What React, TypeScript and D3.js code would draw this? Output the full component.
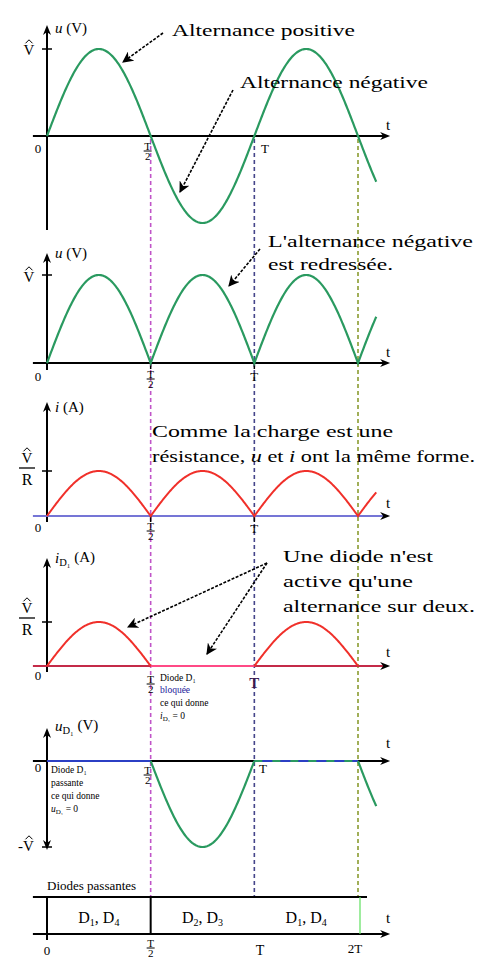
import React from "react";
import * as d3 from "d3";

// ---- chart data ---------------------------------------------------------
// time is expressed in units of the period T
const tickTimes = [0, 0.5, 1, 1.5];
const waveEnd = 1.59; // last instant drawn for the waveforms
const axisStart = -0.068;
const axisEnd = 1.655;

// conducting diodes over each half period
const bridgeIntervals = [0, 0.5, 1, 1.5];
const conductingPairs = [
  ["1", "4"],
  ["2", "3"],
  ["1", "4"],
];

// normalised waveforms (amplitude 1 = V̂ or V̂/R)
const waveU = (t: number) => Math.sin(2 * Math.PI * t);
const waveRectified = (t: number) => Math.abs(Math.sin(2 * Math.PI * t));
const waveID1 = (t: number) => Math.max(0, Math.sin(2 * Math.PI * t));
const waveUD1 = (t: number) => Math.min(0, Math.sin(2 * Math.PI * t));

const samples = d3.range(0, waveEnd + 1e-9, 0.004);

// ---- layout --------------------------------------------------------------
const W = 485;
const H = 965;
const X0 = 47;
const x = d3.scaleLinear().domain([0, 1.5]).range([X0, 358]);

const SERIF = "'Liberation Serif', 'Times New Roman', serif";
const GREEN = "#2a9a60";
const RED = "#f0302a";
const DASH_COLORS = ["#c055c8", "#45458a", "#8a9c30"];

type PanelLayout = { axisY: number; amp: number; top: number; bottom: number };
const P1: PanelLayout = { axisY: 136, amp: 87, top: 25, bottom: 230 };
const P2: PanelLayout = { axisY: 363, amp: 88, top: 253, bottom: 370 };
const P3: PanelLayout = { axisY: 516, amp: 45, top: 402, bottom: 522 };
const P4: PanelLayout = { axisY: 666, amp: 44, top: 558, bottom: 672 };
const P5: PanelLayout = { axisY: 761, amp: 86, top: 728, bottom: 850 };
const TABLE = { top: 897, bottom: 934 };

const yOf = (p: PanelLayout) =>
  d3.scaleLinear().domain([-1, 1]).range([p.axisY + p.amp, p.axisY - p.amp]);

function wavePath(p: PanelLayout, f: (t: number) => number, ts = samples) {
  const y = yOf(p);
  return (
    d3
      .line<number>()
      .x((t) => x(t))
      .y((t) => y(f(t)))(ts) || ""
  );
}

// ---- small drawing helpers -----------------------------------------------
function ArrowRight({ xe, y, color = "#000" }: { xe: number; y: number; color?: string }) {
  return <path d={`M${xe},${y} L${xe - 10},${y - 4} L${xe - 7},${y} L${xe - 10},${y + 4} Z`} fill={color} />;
}
function ArrowUp({ x: xa, y }: { x: number; y: number }) {
  return <path d={`M${xa},${y} L${xa - 4},${y + 10} L${xa},${y + 7} L${xa + 4},${y + 10} Z`} fill="#000" />;
}
function ArrowDown({ x: xa, y }: { x: number; y: number }) {
  return <path d={`M${xa},${y} L${xa - 4},${y - 10} L${xa},${y - 7} L${xa + 4},${y - 10} Z`} fill="#000" />;
}

function TimeAxis({ p, color = "#000" }: { p: PanelLayout; color?: string }) {
  return (
    <g>
      <line x1={x(axisStart)} x2={x(axisEnd) - 6} y1={p.axisY} y2={p.axisY} stroke={color} strokeWidth={2} />
      <ArrowRight xe={x(axisEnd)} y={p.axisY} />
    </g>
  );
}
function ValueAxis({ p, down = false }: { p: PanelLayout; down?: boolean }) {
  return (
    <g>
      <line x1={X0} x2={X0} y1={p.top + 5} y2={down ? p.bottom - 5 : p.bottom} stroke="#000" strokeWidth={2} />
      <ArrowUp x={X0} y={p.top} />
      {down && <ArrowDown x={X0} y={p.bottom} />}
    </g>
  );
}
function PeakTick({ y }: { y: number }) {
  return <line x1={X0 - 5} x2={X0 + 5} y1={y} y2={y} stroke="#000" strokeWidth={1.5} />;
}
function TimeTicks({ p }: { p: PanelLayout }) {
  return (
    <g>
      {tickTimes.slice(1, 3).map((t) => (
        <line key={t} x1={x(t)} x2={x(t)} y1={p.axisY} y2={p.axisY + 6} stroke="#000" strokeWidth={1.5} />
      ))}
    </g>
  );
}

// "V" with a circumflex drawn as a small stroke above it
function Hat({ cx, baseline, size = 14, minus = false }: { cx: number; baseline: number; size?: number; minus?: boolean }) {
  const vx = minus ? cx + 3 : cx;
  const hy = baseline - size * 0.78;
  return (
    <g>
      <text x={cx} y={baseline} fontFamily={SERIF} fontSize={size} textAnchor="middle" fill="#000">
        {minus ? "-V" : "V"}
      </text>
      <path
        d={`M${vx - 3.5},${hy} L${vx},${hy - 3.5} L${vx + 3.5},${hy}`}
        fill="none"
        stroke="#000"
        strokeWidth={1}
      />
    </g>
  );
}

function FracVR({ cx, bar }: { cx: number; bar: number }) {
  return (
    <g fontFamily={SERIF} fill="#000" textAnchor="middle">
      <Hat cx={cx} baseline={bar - 5} size={15} />
      <line x1={cx - 8} x2={cx + 8} y1={bar} y2={bar} stroke="#000" strokeWidth={1.3} />
      <text x={cx} y={bar + 17} fontSize={16}>
        R
      </text>
    </g>
  );
}

function FracT2({ cx, bar, size = 11 }: { cx: number; bar: number; size?: number }) {
  return (
    <g fontFamily={SERIF} fill="#000" textAnchor="middle" fontSize={size}>
      <text x={cx} y={bar - 1.5}>
        T
      </text>
      <line x1={cx - 4} x2={cx + 4} y1={bar} y2={bar} stroke="#000" strokeWidth={1} />
      <text x={cx} y={bar + size * 0.85}>
        2
      </text>
    </g>
  );
}

function Label({ x: lx, y, children, size = 13, anchor = "middle", weight = "normal", fill = "#000" }: any) {
  return (
    <text x={lx} y={y} fontFamily={SERIF} fontSize={size} textAnchor={anchor} fontWeight={weight} fill={fill}>
      {children}
    </text>
  );
}

function Sub({ main, sub, italic = true }: { main: string; sub: string; italic?: boolean }) {
  return (
    <>
      <tspan fontStyle={italic ? "italic" : "normal"}>{main}</tspan>
      <tspan fontSize="0.7em" dy="0.3em">
        {sub}
      </tspan>
      <tspan dy="-0.3em"> </tspan>
    </>
  );
}

function Pointer({ x1, y1, x2, y2 }: { x1: number; y1: number; x2: number; y2: number }) {
  return (
    <line
      x1={x1}
      y1={y1}
      x2={x2}
      y2={y2}
      stroke="#000"
      strokeWidth={1.6}
      strokeDasharray="3,1.5"
      markerEnd="url(#pointerHead)"
    />
  );
}

export default function App() {
  const y1 = yOf(P1);
  const y2 = yOf(P2);
  const y3 = yOf(P3);
  const y4 = yOf(P4);
  const y5 = yOf(P5);

  const ann = { fontFamily: SERIF, fontSize: 17, fill: "#000" } as const;

  return (
    <div style={{ position: "absolute", left: 0, top: 0 }}>
      <svg width={W} height={H} viewBox={`0 0 ${W} ${H}`} style={{ display: "block", background: "#fff" }}>
        <defs>
          <marker id="pointerHead" viewBox="0 0 10 10" refX="9" refY="5" markerWidth="7" markerHeight="7" orient="auto-start-reverse">
            <path d="M0,0 L10,5 L0,10 L3,5 Z" fill="#000" />
          </marker>
        </defs>

        {/* dashed guides at T/2, T and 3T/2 */}
        {tickTimes.slice(1).map((t, i) => (
          <line
            key={t}
            x1={x(t)}
            x2={x(t)}
            y1={P1.axisY + 3}
            y2={TABLE.top}
            stroke={DASH_COLORS[i]}
            strokeWidth={1.6}
            strokeDasharray="4,3"
          />
        ))}

        {/* ---------- panel 1 : u(t) ---------- */}
        <ValueAxis p={P1} />
        <TimeAxis p={P1} />
        <PeakTick y={y1(1)} />
        <path d={wavePath(P1, waveU)} fill="none" stroke={GREEN} strokeWidth={2.2} />
        <Hat cx={29} baseline={y1(1) + 6} size={15} />
        <Label x={55} y={33} size={15} anchor="start">
          <tspan fontStyle="italic">u</tspan> (V)
        </Label>
        <Label x={38} y={153}>0</Label>
        <FracT2 cx={x(0.5) - 3} bar={151} />
        <Label x={265} y={153}>T</Label>
        <Label x={388} y={130} size={15}>t</Label>
        <text x={172} y={36} {...ann} textLength={183} lengthAdjust="spacingAndGlyphs">
          Alternance positive
        </text>
        <Pointer x1={163} y1={33} x2={123} y2={62} />
        <text x={240} y={88} {...ann} textLength={188} lengthAdjust="spacingAndGlyphs">
          Alternance négative
        </text>
        <Pointer x1={233} y1={90} x2={180} y2={192} />

        {/* ---------- panel 2 : rectified u(t) ---------- */}
        <ValueAxis p={P2} />
        <TimeAxis p={P2} />
        <TimeTicks p={P2} />
        <PeakTick y={y2(1)} />
        <path d={wavePath(P2, waveRectified)} fill="none" stroke={GREEN} strokeWidth={2.2} />
        <Hat cx={29} baseline={y2(1) + 7} size={15} />
        <Label x={55} y={258} size={15} anchor="start">
          <tspan fontStyle="italic">u</tspan> (V)
        </Label>
        <Label x={38} y={381}>0</Label>
        <FracT2 cx={x(0.5)} bar={379} />
        <Label x={x(1)} y={381}>T</Label>
        <Label x={388} y={357} size={15}>t</Label>
        <text x={268} y={247} {...ann} textLength={205} lengthAdjust="spacingAndGlyphs">
          L'alternance négative
        </text>
        <text x={268} y={270} {...ann} textLength={125} lengthAdjust="spacingAndGlyphs">
          est redressée.
        </text>
        <Pointer x1={260} y1={249} x2={229} y2={286} />

        {/* ---------- panel 3 : i(t) ---------- */}
        <ValueAxis p={P3} />
        <TimeAxis p={P3} color="#7575d6" />
        <TimeTicks p={P3} />
        <PeakTick y={y3(1)} />
        <path d={wavePath(P3, waveRectified)} fill="none" stroke={RED} strokeWidth={2} />
        <FracVR cx={27} bar={468} />
        <Label x={55} y={412} size={15} anchor="start">
          <tspan fontStyle="italic">i</tspan> (A)
        </Label>
        <Label x={38} y={532}>0</Label>
        <FracT2 cx={x(0.5)} bar={531} />
        <Label x={x(1)} y={533}>T</Label>
        <Label x={388} y={508} size={15}>t</Label>
        <text x={152} y={437} {...ann} fontSize={16} textLength={241} lengthAdjust="spacingAndGlyphs">
          Comme la charge est une
        </text>
        <text x={152} y={462} {...ann} fontSize={16} textLength={323} lengthAdjust="spacingAndGlyphs">
          résistance, <tspan fontStyle="italic">u</tspan> et <tspan fontStyle="italic">i</tspan> ont la même forme.
        </text>

        {/* ---------- panel 4 : i_D1(t) ---------- */}
        <ValueAxis p={P4} />
        <TimeAxis p={P4} color="#c42a48" />
        <line x1={x(0.5)} x2={x(1)} y1={P4.axisY} y2={P4.axisY} stroke="#ff4a86" strokeWidth={2} />
        <PeakTick y={y4(1)} />
        <path d={wavePath(P4, waveID1, samples.filter((t) => t <= 0.5))} fill="none" stroke={RED} strokeWidth={2} />
        <path
          d={wavePath(P4, waveID1, samples.filter((t) => t >= 1 && t <= 1.5))}
          fill="none"
          stroke={RED}
          strokeWidth={2}
        />
        <FracVR cx={27} bar={618} />
        <Label x={55} y={563} size={15} anchor="start">
          <Sub main="i" sub="D₁" /> (A)
        </Label>
        <Label x={38} y={680}>0</Label>
        <FracT2 cx={x(0.5)} bar={684} />
        <Label x={x(1)} y={688} size={15} weight="bold" fill="#3a1850">
          T
        </Label>
        <Label x={388} y={657} size={15}>t</Label>
        <text x={283} y={562} {...ann} textLength={150} lengthAdjust="spacingAndGlyphs">
          Une diode n'est
        </text>
        <text x={283} y={587} {...ann} textLength={130} lengthAdjust="spacingAndGlyphs">
          active qu'une
        </text>
        <text x={283} y={612} {...ann} textLength={192} lengthAdjust="spacingAndGlyphs">
          alternance sur deux.
        </text>
        <Pointer x1={267} y1={563} x2={128} y2={627} />
        <Pointer x1={267} y1={563} x2={207} y2={654} />
        <g fontFamily={SERIF} fontSize={9.5} fill="#000">
          <text x={160} y={681}>Diode D₁</text>
          <text x={160} y={693} fill="#1a1a9a">bloquée</text>
          <text x={160} y={706}>ce qui donne</text>
          <text x={160} y={719}>
            <tspan fontStyle="italic">i</tspan>
            <tspan fontSize={7} dy={2}>D₁</tspan>
            <tspan dy={-2}> = 0</tspan>
          </text>
        </g>

        {/* ---------- panel 5 : u_D1(t) ---------- */}
        <ValueAxis p={P5} down />
        <TimeAxis p={P5} />
        <line x1={x(0)} x2={x(0.5)} y1={P5.axisY} y2={P5.axisY} stroke="#2b3fc4" strokeWidth={2} />
        <line x1={x(1)} x2={x(1.5)} y1={P5.axisY} y2={P5.axisY} stroke="#2b3fc4" strokeWidth={2} />
        <line
          x1={x(1)}
          x2={x(1.5)}
          y1={P5.axisY}
          y2={P5.axisY}
          stroke={GREEN}
          strokeWidth={2}
          strokeDasharray="8,10"
        />
        <PeakTick y={y5(-1)} />
        <path
          d={wavePath(P5, waveUD1, samples.filter((t) => t >= 0.5 && t <= 1))}
          fill="none"
          stroke={GREEN}
          strokeWidth={2.2}
        />
        <path d={wavePath(P5, waveUD1, samples.filter((t) => t >= 1.5))} fill="none" stroke={GREEN} strokeWidth={2.2} />
        <Hat cx={26} baseline={851} size={15} minus />
        <Label x={55} y={731} size={15} anchor="start">
          <Sub main="u" sub="D₁" /> (V)
        </Label>
        <Label x={38} y={772}>0</Label>
        <FracT2 cx={x(0.5) - 3} bar={775} />
        <Label x={263} y={773}>T</Label>
        <Label x={388} y={748} size={15}>t</Label>
        <g fontFamily={SERIF} fontSize={9.5} fill="#000">
          <text x={51} y={773}>Diode D₁</text>
          <text x={51} y={786}>passante</text>
          <text x={51} y={799}>ce qui donne</text>
          <text x={51} y={812}>
            <tspan fontStyle="italic">u</tspan>
            <tspan fontSize={7} dy={2}>D₁</tspan>
            <tspan dy={-2}> = 0</tspan>
          </text>
        </g>

        {/* ---------- conducting diodes table ---------- */}
        <Label x={47} y={890} size={13} anchor="start">
          Diodes passantes
        </Label>
        <line x1={x(axisStart)} x2={367} y1={TABLE.top} y2={TABLE.top} stroke="#000" strokeWidth={2} />
        <line x1={x(axisStart)} x2={x(axisEnd) - 6} y1={TABLE.bottom} y2={TABLE.bottom} stroke="#000" strokeWidth={2} />
        <ArrowRight xe={x(axisEnd)} y={TABLE.bottom} />
        <line x1={x(0)} x2={x(0)} y1={TABLE.top} y2={TABLE.bottom + 6} stroke="#000" strokeWidth={2} />
        <line x1={x(0.5)} x2={x(0.5)} y1={TABLE.top} y2={TABLE.bottom} stroke="#000" strokeWidth={2} />
        <line x1={x(1.5) + 2} x2={x(1.5) + 2} y1={TABLE.top} y2={TABLE.bottom} stroke="#5ee05e" strokeWidth={1.2} />
        {conductingPairs.map((pair, i) => {
          const cx = (x(bridgeIntervals[i]) + x(bridgeIntervals[i + 1])) / 2;
          return (
            <text key={i} x={cx} y={923} fontFamily={SERIF} fontSize={16} textAnchor="middle" fill="#000">
              D<tspan fontSize={10} dy={3}>{pair[0]}</tspan>
              <tspan dy={-3}>, D</tspan>
              <tspan fontSize={10} dy={3}>{pair[1]}</tspan>
            </text>
          );
        })}
        <Label x={x(0)} y={955}>0</Label>
        <FracT2 cx={x(0.5)} bar={948} />
        <Label x={260} y={955} size={14}>T</Label>
        <Label x={355} y={953} size={13}>2T</Label>
        <Label x={388} y={923} size={15}>t</Label>
      </svg>
    </div>
  );
}
